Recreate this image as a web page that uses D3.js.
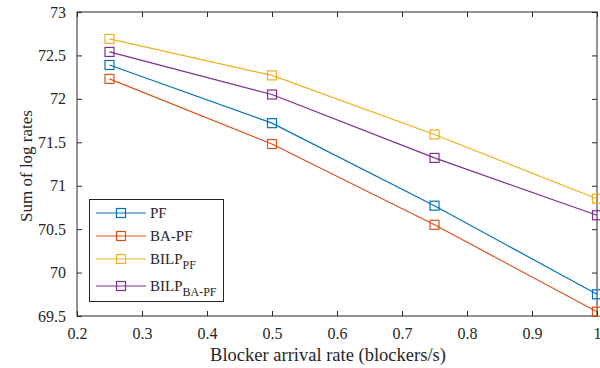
<!DOCTYPE html>
<html><head><meta charset="utf-8">
<script src="https://cdn.jsdelivr.net/npm/d3@7"></script>
<style>body{margin:0;background:#fff}svg{display:block}</style>
</head><body><svg id="c" width="600" height="368"></svg>
<script>
const xValues = [0.25, 0.5, 0.75, 1.0];
const pf = [72.39, 71.72, 70.77, 69.75];
const baPf = [72.23, 71.48, 70.55, 69.55];
const bilpPf = [72.69, 72.27, 71.59, 70.85];
const bilpBaPf = [72.54, 72.05, 71.32, 70.66];
const xTicks = [0.2, 0.3, 0.4, 0.5, 0.6, 0.7, 0.8, 0.9, 1];
const yTicks = [69.5, 70, 70.5, 71, 71.5, 72, 72.5, 73];
const seriesNames = [["PF", ""], ["BA-PF", ""], ["BILP", "PF"], ["BILP", "BA-PF"]];
const colors = ["#0072BD", "#D95319", "#EDB120", "#7E2F8E"];
const seriesData = [pf, baPf, bilpPf, bilpBaPf];

const FONT = "'Liberation Serif', 'Times New Roman', Times, serif";
const svg = d3.select("#c").attr("font-family", FONT);
const L = 77, R = 597, T = 12, B = 316;
const x = d3.scaleLinear().domain([0.2, 1]).range([L, R]);
const y = d3.scaleLinear().domain([69.5, 73]).range([B, T]);
const axisColor = "#262626";

// box
svg.append("rect").attr("x", L).attr("y", T).attr("width", R - L).attr("height", B - T)
  .attr("fill", "none").attr("stroke", axisColor).attr("stroke-width", 1);

const fmt = d => d3.format("")(d);
const xa = svg.append("g").attr("transform", `translate(0,${B})`)
  .call(d3.axisBottom(x).tickValues(xTicks).tickFormat(fmt).tickSizeInner(-5).tickSizeOuter(0).tickPadding(12));
const ya = svg.append("g").attr("transform", `translate(${L},0)`)
  .call(d3.axisLeft(y).tickValues(yTicks).tickFormat(fmt).tickSizeInner(-5).tickSizeOuter(0).tickPadding(11));
const xt = svg.append("g").attr("transform", `translate(0,${T})`)
  .call(d3.axisTop(x).tickValues(xTicks).tickFormat("").tickSizeInner(-5).tickSizeOuter(0));
const yr = svg.append("g").attr("transform", `translate(${R},0)`)
  .call(d3.axisRight(y).tickValues(yTicks).tickFormat("").tickSizeInner(-5).tickSizeOuter(0));
[xa, ya, xt, yr].forEach(g => {
  g.attr("font-family", FONT).attr("font-size", 16);
  g.select(".domain").remove();
  g.selectAll("line").attr("stroke", axisColor);
  g.selectAll("text").attr("fill", axisColor);
});

// lines and markers
const line = d3.line().x((d, i) => x(xValues[i])).y(d => y(d));
seriesData.forEach((s, k) => {
  svg.append("path").datum(s).attr("d", line).attr("fill", "none")
    .attr("stroke", colors[k]).attr("stroke-width", 1.2);
  svg.selectAll(null).data(s).enter().append("rect")
    .attr("x", (d, i) => x(xValues[i]) - 4.5).attr("y", d => y(d) - 4.5)
    .attr("width", 9).attr("height", 9).attr("fill", "none")
    .attr("stroke", colors[k]).attr("stroke-width", 1.2);
});

// axis titles
svg.append("text").attr("x", 328).attr("y", 361).attr("text-anchor", "middle")
  .attr("fill", axisColor).attr("font-size", 18.5).text("Blocker arrival rate (blockers/s)");
svg.append("text").attr("transform", `translate(32,166) rotate(-90)`).attr("text-anchor", "middle")
  .attr("fill", axisColor).attr("font-size", 17).text("Sum of log rates");

// legend
const lg = svg.append("g");
lg.append("rect").attr("x", 89.5).attr("y", 199.5).attr("width", 134).attr("height", 102)
  .attr("fill", "#fff").attr("stroke", axisColor).attr("stroke-width", 1);
const rowsY = [213, 236, 259, 286];
seriesNames.forEach((n, k) => {
  const yy = rowsY[k];
  lg.append("line").attr("x1", 96).attr("x2", 146).attr("y1", yy).attr("y2", yy)
    .attr("stroke", colors[k]).attr("stroke-width", 1.2);
  lg.append("rect").attr("x", 121 - 4.5).attr("y", yy - 4.5).attr("width", 9).attr("height", 9)
    .attr("fill", "none").attr("stroke", colors[k]).attr("stroke-width", 1.2);
  const t = lg.append("text").attr("x", 150).attr("y", yy + 5).attr("font-size", 15).attr("fill", axisColor);
  t.append("tspan").text(n[0]);
  if (n[1]) t.append("tspan").attr("dy", 5).attr("font-size", 12).text(n[1]);
});
</script></body></html>
